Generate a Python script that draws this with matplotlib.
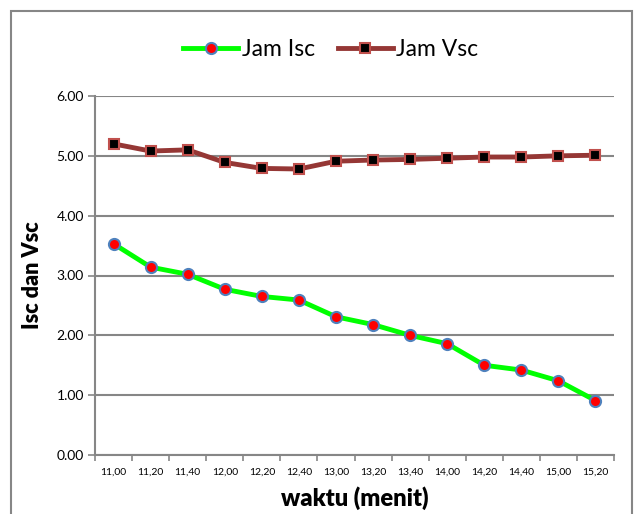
import matplotlib.pyplot as plt
from matplotlib.patches import Rectangle

waktu = ['11,00', '11,20', '11,40', '12,00', '12,20', '12,40', '13,00',
         '13,20', '13,40', '14,00', '14,20', '14,40', '15,00', '15,20']
jam_isc = [3.53, 3.14, 3.02, 2.77, 2.65, 2.59, 2.31, 2.18, 2.00, 1.86, 1.50, 1.42, 1.24, 0.91]
jam_vsc = [5.20, 5.08, 5.10, 4.89, 4.79, 4.78, 4.91, 4.93, 4.94, 4.96, 4.98, 4.98, 5.00, 5.01]
y_ticks = [0, 1, 2, 3, 4, 5, 6]

plt.rcParams['font.family'] = ['Lato', 'DejaVu Sans']
grey = '#868686'

fig = plt.figure(figsize=(6.42, 5.14), dpi=100)
ax = fig.add_axes([95 / 642, 1 - 455 / 514, 519 / 642, 359 / 514])

x = list(range(len(waktu)))
ax.plot(x, jam_isc, color='#00ff00', lw=3.5, marker='o', ms=8,
        mfc='#ff0000', mec='#4f81bd', mew=1.5, label='Jam Isc', zorder=3)
ax.plot(x, jam_vsc, color='#953735', lw=3.5, marker='s', ms=7.5,
        mfc='#000000', mec='#c0504d', mew=1.5, label='Jam Vsc', zorder=3)

ax.set_xlim(-0.5, len(waktu) - 0.5)
ax.set_ylim(0, 6)
ax.set_yticks(y_ticks)
ax.set_yticklabels([f'{v:.2f}' for v in y_ticks], fontsize=10)
ax.set_xticks(x)
ax.set_xticklabels(waktu, fontsize=7.5)
ax.set_xticks([i - 0.5 for i in range(len(waktu) + 1)], minor=True)
ax.tick_params(axis='x', which='major', length=0, pad=9)
ax.tick_params(axis='x', which='minor', length=4, color=grey, width=1.2)
ax.tick_params(axis='y', length=5, color=grey, width=1.2, pad=3)

ax.grid(axis='y', color=grey, lw=1.5)
ax.set_axisbelow(True)
for side in ['top', 'right']:
    ax.spines[side].set_visible(False)
for side in ['left', 'bottom']:
    ax.spines[side].set_color(grey)
    ax.spines[side].set_linewidth(1.5)

ax.set_xlabel('waktu (menit)', fontsize=17, fontweight='heavy', labelpad=7)
ax.set_ylabel('Isc dan Vsc', fontsize=15.5, fontweight='heavy')
ax.yaxis.set_label_coords((43 - 95) / 519, 0.5)

fig.legend(loc='center', bbox_to_anchor=(331 / 642, 1 - 50 / 514), ncol=2,
           frameon=False, fontsize=16.5, handlelength=2.4, handletextpad=0.15,
           columnspacing=1.0)

# chart frame
fig.patches.append(Rectangle((11 / 642, -0.05), 621 / 642, 1.05 - 11 / 514,
                             transform=fig.transFigure, fill=False,
                             edgecolor=grey, lw=1.5))

fig.savefig('out.png', dpi=100)
